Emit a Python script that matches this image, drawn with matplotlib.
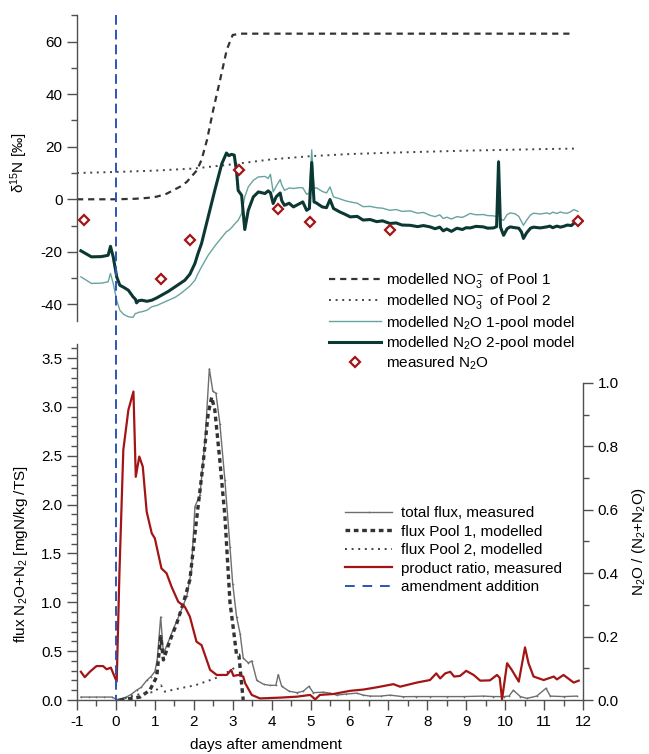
import numpy as np
import matplotlib
matplotlib.use('Agg')
import matplotlib.pyplot as plt
from matplotlib.lines import Line2D
from matplotlib.ticker import MultipleLocator
from matplotlib.transforms import blended_transform_factory

plt.rcParams['font.family'] = ['Liberation Sans', 'DejaVu Sans']
plt.rcParams['font.size'] = 11
plt.rcParams['axes.unicode_minus'] = False
plt.rcParams['mathtext.fontset'] = 'custom'
plt.rcParams['mathtext.rm'] = 'Liberation Sans'
plt.rcParams['mathtext.it'] = 'Liberation Sans:italic'
plt.rcParams['mathtext.default'] = 'rm'

# ── Top panel data: d15N [permil] vs days after amendment ──
t_pool1 = [-1, 0, 0.5, 0.79, 1.05, 1.3, 1.65, 1.82, 2.08, 2.2, 2.34, 2.5, 2.67,
           2.85, 3.0, 3.2, 5, 8, 11.75]
no3_pool1 = [0, 0, 0.2, 0.5, 1.0, 2.1, 4.8, 6.6, 11, 15, 22.6, 34, 45,
             57, 62.5, 63, 63, 63, 63]

t_pool2 = [-1, 0, 1, 2, 3, 4, 5, 6, 7, 8, 9, 10, 11, 11.85]
no3_pool2 = [10, 10.4, 10.9, 11.7, 13.3, 15.2, 16.4, 17.2, 17.7, 18.1, 18.5,
             18.8, 19.1, 19.3]

t_model = [-0.9, -0.63, -0.37, -0.2, -0.14, -0.07, 0.02, 0.1, 0.2, 0.32, 0.44,
           0.5, 0.53, 0.58, 0.66, 0.8, 0.92, 1.05, 1.17, 1.35, 1.52, 1.65,
           1.77, 1.9, 2.03, 2.1, 2.2, 2.37, 2.54, 2.72, 2.84, 2.9, 2.97, 3.04,
           3.1, 3.14, 3.23, 3.31, 3.4, 3.53, 3.66, 3.83, 3.91, 3.97, 4.04, 4.12,
           4.22, 4.26, 4.33, 4.45, 4.56, 4.7, 4.8, 4.9, 4.97, 5.03, 5.09, 5.15,
           5.3, 5.41, 5.5, 5.59, 5.75, 5.9, 6.02, 6.2, 6.35, 6.53, 6.7, 6.85,
           7.04, 7.2, 7.35, 7.56, 7.75, 7.9, 8.07, 8.2, 8.32, 8.41, 8.5, 8.62,
           8.76, 8.9, 9.0, 9.1, 9.25, 9.44, 9.55, 9.7, 9.78, 9.83, 9.88, 9.96,
           10.05, 10.13, 10.25, 10.35, 10.42, 10.47, 10.55, 10.65, 10.73, 10.9,
           11.07, 11.15, 11.22, 11.33, 11.42, 11.5, 11.6, 11.7, 11.76, 11.87]
n2o_1pool = [-29.5, -32.0, -31.9, -31.4, -28.2, -32.0, -38.4, -42.2, -43.8,
             -44.7, -44.9, -43.4, -43.4, -43.0, -42.8, -42.2, -40.9, -40.4,
             -39.6, -38.4, -37.3, -36.0, -34.6, -33.0, -30.8, -28.5, -25.7,
             -21.3, -17.8, -14.5, -12.3, -11.8, -10.8, -9.6, -8.6, -8.0, -5.4,
             0.9, 4.7, 7.2, 8.5, 8.7, 7.9, 9.5, 2.8, 5.0, 7.5, 5.5, 3.4, 4.3,
             4.1, 4.4, 4.4, 1.9, 2.3, 18.8, 4.0, 4.4, 3.0, 2.4, 4.7, 0.9, 0.2,
             -0.6, -1.0, -1.5, -2.8, -2.7, -3.2, -3.4, -4.2, -3.9, -4.6, -4.4,
             -5.3, -5.0, -6.1, -6.6, -5.9, -7.3, -6.8, -7.5, -6.6, -6.9, -6.2,
             -5.4, -5.9, -5.8, -6.2, -6.3, -6.6, 14.8, -7.5, -8.0, -5.8, -5.2,
             -5.5, -6.5, -8.5, -9.9, -8.0, -6.0, -5.3, -5.6, -5.2, -5.6, -4.9,
             -5.4, -4.8, -5.2, -5.3, -4.6, -3.9, -4.6]
n2o_2pool = [-19.6, -21.9, -21.8, -21.3, -17.9, -21.9, -29.5, -32.7, -33.5,
             -34.6, -37.1, -38.0, -39.4, -38.6, -38.4, -38.8, -38.4, -37.5,
             -36.5, -35.0, -33.3, -32.0, -30.8, -28.5, -24.4, -21.0, -16.8,
             -6.7, 3.4, 13.5, 17.6, 16.6, 17.1, 16.8, 10.5, 3.4, 1.5, -11.5,
             -4.2, 0.9, 2.8, 2.2, 3.2, 2.5, -1.6, 1.0, 2.4, -0.5, -2.3, -1.5,
             -2.9, -1.8, -1.0, -4.2, -3.5, 14.0, -1.0, -1.4, -2.9, -3.2, -0.1,
             -3.5, -4.8, -5.8, -6.7, -6.5, -7.9, -7.7, -8.5, -8.2, -9.2, -9.0,
             -9.8, -9.9, -10.4, -10.0, -10.5, -11.2, -10.6, -12.0, -11.3, -12.2,
             -11.0, -11.5, -10.8, -10.9, -10.3, -10.5, -11.0, -10.9, -10.4,
             14.2, -10.6, -13.7, -11.2, -10.5, -10.8, -11.0, -12.5, -14.9,
             -12.8, -11.0, -10.6, -10.9, -10.5, -10.2, -10.8, -10.2, -10.6,
             -10.3, -9.8, -10.0, -9.2, -7.7]

t_meas = [-0.81, 1.15, 1.9, 3.17, 4.17, 4.99, 7.04, 11.88]
n2o_meas = [-8.0, -30.5, -15.6, 11.3, -3.6, -8.6, -11.8, -8.3]

# ── Bottom panel data: fluxes [mgN/kg TS] and product ratio ──
t_tot = [-0.9, -0.7, -0.5, -0.3, -0.1, 0.02, 0.1, 0.27, 0.4, 0.53, 0.65, 0.79,
         0.9, 1.0, 1.06, 1.15, 1.22, 1.3, 1.47, 1.65, 1.82, 1.94, 2.03, 2.16,
         2.29, 2.4, 2.49, 2.57, 2.67, 2.8, 2.93, 3.0, 3.1, 3.19, 3.27, 3.4,
         3.49, 3.62, 3.8, 3.96, 4.11, 4.17, 4.26, 4.45, 4.65, 4.81, 4.96, 5.07,
         5.33, 5.5, 5.67, 5.9, 6.19, 6.35, 6.53, 6.8, 7.04, 7.38, 7.7, 8.07,
         8.5, 8.93, 9.44, 9.7, 9.96, 10.1, 10.21, 10.39, 10.56, 10.81, 11.05,
         11.16, 11.5, 11.84]
flux_tot = [0.03, 0.03, 0.03, 0.03, 0.03, 0.005, 0.01, 0.03, 0.06, 0.10, 0.13,
            0.20, 0.24, 0.29, 0.41, 0.85, 0.48, 0.55, 0.72, 0.89, 1.06, 1.33,
            1.98, 2.10, 2.66, 3.39, 3.16, 3.14, 2.83, 2.25, 1.57, 1.19, 0.85,
            0.68, 0.43, 0.38, 0.40, 0.20, 0.16, 0.15, 0.15, 0.26, 0.14, 0.09,
            0.075, 0.09, 0.14, 0.075, 0.08, 0.07, 0.05, 0.06, 0.07, 0.05, 0.04,
            0.04, 0.05, 0.034, 0.035, 0.035, 0.035, 0.035, 0.04, 0.035, 0.035,
            0.04, 0.10, 0.035, 0.017, 0.04, 0.12, 0.04, 0.035, 0.04]

t_fp1 = [0.1, 0.62, 0.87, 1.05, 1.1, 1.15, 1.22, 1.39, 1.56, 1.73, 1.9, 2.07,
         2.24, 2.37, 2.46, 2.54, 2.67, 2.8, 2.93, 3.02, 3.1, 3.16, 3.22, 3.27]
flux_pool1 = [0.0, 0.03, 0.10, 0.24, 0.45, 0.65, 0.41, 0.61, 0.78, 0.99, 1.23,
              1.84, 2.42, 2.93, 3.1, 2.97, 2.45, 1.88, 1.0, 0.72, 0.46, 0.46,
              0.2, 0.0]

t_fp2 = [0.06, 0.49, 1.0, 1.16, 1.26, 1.52, 2.03, 2.54, 2.89, 3.05]
flux_pool2 = [0.0, 0.05, 0.085, 0.15, 0.085, 0.11, 0.15, 0.22, 0.29, 0.33]

t_ratio = [-0.9, -0.8, -0.67, -0.5, -0.33, -0.24, -0.13, -0.07, 0.02, 0.09,
           0.19, 0.32, 0.45, 0.51, 0.6, 0.69, 0.79, 0.92, 1.0, 1.17, 1.3, 1.43,
           1.6, 1.77, 1.9, 2.07, 2.2, 2.42, 2.59, 2.85, 2.96, 3.02, 3.15, 3.27,
           3.32, 3.49, 3.7, 4.22, 4.65, 4.99, 5.12, 5.24, 5.59, 6.02, 6.36, 6.7,
           7.13, 7.3, 7.73, 8.07, 8.23, 8.33, 8.46, 8.59, 8.69, 8.84, 9.0, 9.19,
           9.36, 9.61, 9.79, 9.86, 9.92, 10.05, 10.17, 10.35, 10.51, 10.6,
           10.73, 10.99, 11.25, 11.33, 11.5, 11.76, 11.89]
ratio = [0.089, 0.072, 0.089, 0.107, 0.107, 0.097, 0.102, 0.084, 0.058, 0.40,
         0.789, 0.915, 0.973, 0.704, 0.768, 0.736, 0.594, 0.526, 0.51, 0.415,
         0.40, 0.357, 0.31, 0.294, 0.263, 0.184, 0.173, 0.095, 0.079, 0.079,
         0.095, 0.076, 0.079, 0.074, 0.053, 0.016, 0.005, 0.0075, 0.0105, 0.016,
         0.002, 0.016, 0.019, 0.029, 0.033, 0.04, 0.05, 0.042, 0.055, 0.063,
         0.084, 0.068, 0.084, 0.089, 0.074, 0.076, 0.092, 0.079, 0.061, 0.062,
         0.079, 0.07, 0.002, 0.116, 0.095, 0.058, 0.166, 0.116, 0.074, 0.063,
         0.074, 0.065, 0.079, 0.055, 0.061]

x_ticks = list(range(-1, 13))

# ── Styling ──
SPINE = '#505050'
C_LIGHT = '#68a49f'
C_DARK = '#0b3833'
C_RED = '#a31515'
C_BLUE = '#2b55b8'
C_GREY = '#6e6e6e'
FIG_W, FIG_H = 649, 754

fig = plt.figure(figsize=(FIG_W / 100, FIG_H / 100), dpi=100)
ax1 = fig.add_axes([77 / FIG_W, 1 - 321 / FIG_H, 506 / FIG_W, 306 / FIG_H])
ax2 = fig.add_axes([77 / FIG_W, 1 - 700 / FIG_H, 506 / FIG_W, 356 / FIG_H])
ax3 = ax2.twinx()


def style_axis(ax):
    for s in ax.spines.values():
        s.set_color(SPINE)
        s.set_linewidth(1.0)
    ax.tick_params(which='major', direction='out', length=7.5, width=1.0,
                   color=SPINE, pad=3, labelsize=11)
    ax.tick_params(which='minor', direction='out', length=4, width=1.0,
                   color=SPINE)
    ax.patch.set_alpha(0)


# ── Top panel ──
ax1.plot(t_pool1, no3_pool1, color='#333333', lw=1.6, ls=(0, (2.8, 2.2)),
         label='modelled NO$_3^-$ of Pool 1')
ax1.plot(t_pool2, no3_pool2, color='#444444', lw=1.4, ls=(0, (1, 2.4)),
         label='modelled NO$_3^-$ of Pool 2')
ax1.plot(t_model, n2o_1pool, color=C_LIGHT, lw=1.0,
         label='modelled N$_2$O 1-pool model')
ax1.plot(t_model, n2o_2pool, color=C_DARK, lw=2.2,
         label='modelled N$_2$O 2-pool model')
ax1.plot(t_meas, n2o_meas, ls='none', marker='D', ms=5.5, mew=1.6,
         mec=C_RED, mfc='white', label='measured N$_2$O')

ax1.set_xlim(-1, 12)
ax1.set_ylim(-46.3, 70.1)
ax1.yaxis.set_major_locator(MultipleLocator(20))
ax1.yaxis.set_minor_locator(MultipleLocator(10))
for s in ['top', 'right', 'bottom']:
    ax1.spines[s].set_visible(False)
ax1.set_xticks([])
style_axis(ax1)
ax1.set_ylabel('δ$^{15}$N [‰]', fontsize=11)
ax1.yaxis.set_label_coords(-0.093, 0.516)

# ── Bottom panel ──
ax2.plot(t_tot, flux_tot, color=C_GREY, lw=1.0, marker='+', ms=2, mew=0.5,
         label='total flux, measured')
ax2.plot(t_fp1, flux_pool1, color='#333333', lw=2.4, ls=(0, (1.4, 1.1)),
         label='flux Pool 1, modelled')
ax2.plot(t_fp2, flux_pool2, color='#444444', lw=1.4, ls=(0, (1, 2.4)),
         label='flux Pool 2, modelled')
ax3.plot(t_ratio, ratio, color=C_RED, lw=1.6, label='product ratio, measured')

ax2.set_xlim(-1, 12)
ax2.set_ylim(0, 3.644)
ax2.set_xticks(x_ticks)
ax2.xaxis.set_minor_locator(MultipleLocator(0.5))
ax2.yaxis.set_major_locator(MultipleLocator(0.5))
ax2.yaxis.set_minor_locator(MultipleLocator(0.1))
ax2.yaxis.set_major_formatter(lambda v, p: f'{v:.1f}')
ax2.spines['top'].set_visible(False)
ax2.spines['right'].set_visible(False)
style_axis(ax2)
ax2.set_ylabel('flux N$_2$O+N$_2$ [mgN/kg /TS]', fontsize=11)
ax2.yaxis.set_label_coords(-0.093, 0.41)
ax2.set_xlabel('days after amendment', fontsize=11)
ax2.xaxis.set_label_coords(0.374, -0.108)

ax3.set_ylim(0, 1.123)
ax3.yaxis.set_major_locator(MultipleLocator(0.2))
ax3.yaxis.set_major_formatter(lambda v, p: f'{v:.1f}' if v <= 1.0001 else '')
for s in ['top', 'left', 'bottom']:
    ax3.spines[s].set_visible(False)
ax3.spines['right'].set_bounds(0, 1)
style_axis(ax3)
ax3.set_yticks([v / 10 for v in range(0, 11)], minor=True)
ax3.set_ylabel('N$_2$O / (N$_2$+N$_2$O)', fontsize=11)
ax3.yaxis.set_label_coords(1.093, 0.444)

# amendment line spanning both panels
blend = blended_transform_factory(ax2.transData, fig.transFigure)
amend = Line2D([0, 0], [1 - 15 / FIG_H, 1 - 700 / FIG_H], transform=blend,
               color=C_BLUE, lw=1.4, ls=(0, (5, 2.6)), zorder=5)
fig.add_artist(amend)

# ── Legends ──
h1, l1 = ax1.get_legend_handles_labels()
fig.legend(h1, l1, loc='upper left', bbox_to_anchor=(329 / FIG_W, 1 - 271 / FIG_H),
           frameon=False, borderpad=0, borderaxespad=0, handlelength=3.4,
           handletextpad=0.33, labelspacing=0.15, fontsize=11)

h2, l2 = ax2.get_legend_handles_labels()
h3, l3 = ax3.get_legend_handles_labels()
blue_handle = Line2D([], [], color=C_BLUE, lw=1.4, ls=(0, (5, 4)))
fig.legend(h2 + h3 + [blue_handle], l2 + l3 + ['amendment addition'],
           loc='upper left', bbox_to_anchor=(345 / FIG_W, 1 - 506 / FIG_H),
           frameon=False, borderpad=0, borderaxespad=0, handlelength=3.1,
           handletextpad=0.55, labelspacing=0.3, fontsize=11)

plt.savefig('out.png', dpi=100)
plt.close()
